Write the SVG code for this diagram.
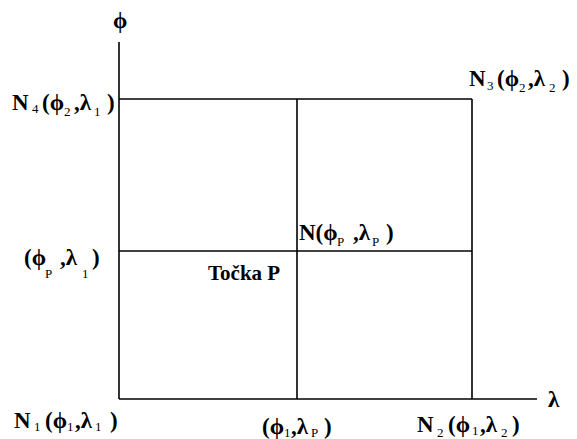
<svg xmlns="http://www.w3.org/2000/svg" width="577" height="439" viewBox="0 0 577 439">
<style>
.ln{stroke:#000;stroke-width:1.6;fill:none}
.t{font-family:"Liberation Serif","Times New Roman",serif;font-weight:bold;font-size:23px;fill:#000}
.s{font-size:13px;font-weight:normal}
.p{font-size:21px}
</style>
<rect width="577" height="439" fill="#fff"/>
<g id="connectors">
<line class="ln" x1="119" y1="42" x2="119" y2="399"/>
<line class="ln" x1="119" y1="399" x2="537" y2="399"/>
<line class="ln" x1="119" y1="99" x2="472" y2="99"/>
<line class="ln" x1="472" y1="99" x2="472" y2="399"/>
<line class="ln" x1="297" y1="99" x2="297" y2="399"/>
<line class="ln" x1="119" y1="251" x2="472" y2="251"/>
</g>
<g id="axis-phi"><text class="t" x="113" y="28">ϕ</text></g>
<g id="axis-lambda"><text class="t" x="548" y="407">λ</text></g>
<g id="N4"><text class="t" y="110"><tspan x="12">N</tspan><tspan class="s" x="32" y="113">4</tspan><tspan x="42" y="110">(ϕ</tspan><tspan class="s" x="64" y="116">2</tspan><tspan x="74" y="110">,λ</tspan><tspan class="s" x="94" y="116">1</tspan><tspan x="107" y="110">)</tspan></text></g>
<g id="N3"><text class="t" y="86"><tspan x="469">N</tspan><tspan class="s" x="487" y="90">3</tspan><tspan x="497" y="86">(ϕ</tspan><tspan class="s" x="519" y="92">2</tspan><tspan x="528" y="86">,λ</tspan><tspan class="s" x="549" y="92">2</tspan><tspan x="562" y="86">)</tspan></text></g>
<g id="PL1"><text class="t" y="265"><tspan x="24">(ϕ</tspan><tspan class="s" x="45" y="278">P</tspan><tspan x="60" y="265">,λ</tspan><tspan class="s" x="82" y="278">1</tspan><tspan x="92" y="265">)</tspan></text></g>
<g id="P"><text class="t p" x="208" y="280">Točka P</text></g>
<g id="N"><text class="t" y="240"><tspan x="299">N(ϕ</tspan><tspan class="s" x="337" y="246">P</tspan><tspan x="353" y="240">,λ</tspan><tspan class="s" x="372" y="246">P</tspan><tspan x="386" y="240">)</tspan></text></g>
<g id="N1"><text class="t" y="428"><tspan x="14">N</tspan><tspan class="s" x="34" y="431">1</tspan><tspan x="45" y="428">(ϕ</tspan><tspan class="s" x="67" y="431">1</tspan><tspan x="75" y="428">,λ</tspan><tspan class="s" x="95" y="431">1</tspan><tspan x="110" y="428">)</tspan></text></g>
<g id="PL"><text class="t" y="434"><tspan x="262">(ϕ</tspan><tspan class="s" x="284" y="437">1</tspan><tspan x="291" y="434">,λ</tspan><tspan class="s" x="311" y="437">P</tspan><tspan x="324" y="434">)</tspan></text></g>
<g id="N2"><text class="t" y="432"><tspan x="417">N</tspan><tspan class="s" x="437" y="437">2</tspan><tspan x="448" y="432">(ϕ</tspan><tspan class="s" x="472" y="435">1</tspan><tspan x="480" y="432">,λ</tspan><tspan class="s" x="501" y="437">2</tspan><tspan x="512" y="432">)</tspan></text></g>
</svg>
